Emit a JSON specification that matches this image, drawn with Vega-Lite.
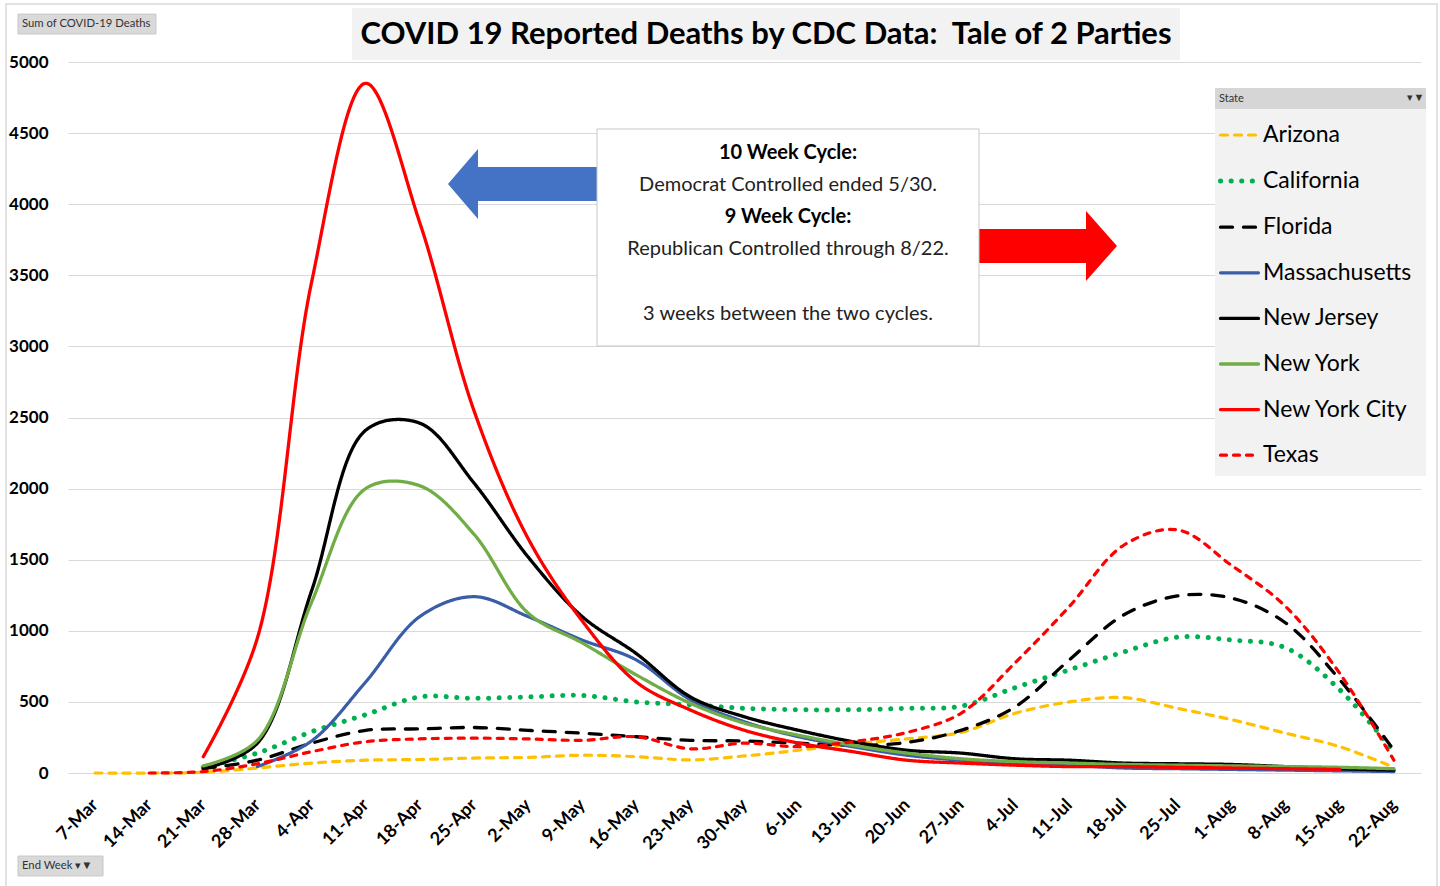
{
  "$schema": "https://vega.github.io/schema/vega-lite/v6.json",
  "autosize": {"type": "none"},
  "padding": {"left": 68, "top": 62, "right": 19, "bottom": 113},
  "width": 1353,
  "height": 711,
  "background": "white",
  "config": {"view": {"stroke": null}, "font": "Lato"},
  "datasets": {
    "deaths": [
      {"Week": "7-Mar", "State": "Arizona", "Deaths": 0},
      {"Week": "14-Mar", "State": "Arizona", "Deaths": 0},
      {"Week": "21-Mar", "State": "Arizona", "Deaths": 5},
      {"Week": "28-Mar", "State": "Arizona", "Deaths": 35},
      {"Week": "4-Apr", "State": "Arizona", "Deaths": 70},
      {"Week": "11-Apr", "State": "Arizona", "Deaths": 90},
      {"Week": "18-Apr", "State": "Arizona", "Deaths": 95},
      {"Week": "25-Apr", "State": "Arizona", "Deaths": 105},
      {"Week": "2-May", "State": "Arizona", "Deaths": 110},
      {"Week": "9-May", "State": "Arizona", "Deaths": 125},
      {"Week": "16-May", "State": "Arizona", "Deaths": 115},
      {"Week": "23-May", "State": "Arizona", "Deaths": 92},
      {"Week": "30-May", "State": "Arizona", "Deaths": 120},
      {"Week": "6-Jun", "State": "Arizona", "Deaths": 160},
      {"Week": "13-Jun", "State": "Arizona", "Deaths": 205},
      {"Week": "20-Jun", "State": "Arizona", "Deaths": 240},
      {"Week": "27-Jun", "State": "Arizona", "Deaths": 285},
      {"Week": "4-Jul", "State": "Arizona", "Deaths": 420},
      {"Week": "11-Jul", "State": "Arizona", "Deaths": 500},
      {"Week": "18-Jul", "State": "Arizona", "Deaths": 530},
      {"Week": "25-Jul", "State": "Arizona", "Deaths": 455},
      {"Week": "1-Aug", "State": "Arizona", "Deaths": 375},
      {"Week": "8-Aug", "State": "Arizona", "Deaths": 280},
      {"Week": "15-Aug", "State": "Arizona", "Deaths": 185},
      {"Week": "22-Aug", "State": "Arizona", "Deaths": 40},

      {"Week": "21-Mar", "State": "California", "Deaths": 40},
      {"Week": "28-Mar", "State": "California", "Deaths": 140},
      {"Week": "4-Apr", "State": "California", "Deaths": 290},
      {"Week": "11-Apr", "State": "California", "Deaths": 410},
      {"Week": "18-Apr", "State": "California", "Deaths": 535},
      {"Week": "25-Apr", "State": "California", "Deaths": 525},
      {"Week": "2-May", "State": "California", "Deaths": 535},
      {"Week": "9-May", "State": "California", "Deaths": 545},
      {"Week": "16-May", "State": "California", "Deaths": 500},
      {"Week": "23-May", "State": "California", "Deaths": 480},
      {"Week": "30-May", "State": "California", "Deaths": 455},
      {"Week": "6-Jun", "State": "California", "Deaths": 445},
      {"Week": "13-Jun", "State": "California", "Deaths": 445},
      {"Week": "20-Jun", "State": "California", "Deaths": 455},
      {"Week": "27-Jun", "State": "California", "Deaths": 470},
      {"Week": "4-Jul", "State": "California", "Deaths": 600},
      {"Week": "11-Jul", "State": "California", "Deaths": 725},
      {"Week": "18-Jul", "State": "California", "Deaths": 850},
      {"Week": "25-Jul", "State": "California", "Deaths": 955},
      {"Week": "1-Aug", "State": "California", "Deaths": 935},
      {"Week": "8-Aug", "State": "California", "Deaths": 880},
      {"Week": "15-Aug", "State": "California", "Deaths": 585},
      {"Week": "22-Aug", "State": "California", "Deaths": 150},

      {"Week": "21-Mar", "State": "Florida", "Deaths": 30},
      {"Week": "28-Mar", "State": "Florida", "Deaths": 90},
      {"Week": "4-Apr", "State": "Florida", "Deaths": 210},
      {"Week": "11-Apr", "State": "Florida", "Deaths": 300},
      {"Week": "18-Apr", "State": "Florida", "Deaths": 310},
      {"Week": "25-Apr", "State": "Florida", "Deaths": 320},
      {"Week": "2-May", "State": "Florida", "Deaths": 300},
      {"Week": "9-May", "State": "Florida", "Deaths": 280},
      {"Week": "16-May", "State": "Florida", "Deaths": 255},
      {"Week": "23-May", "State": "Florida", "Deaths": 230},
      {"Week": "30-May", "State": "Florida", "Deaths": 225},
      {"Week": "6-Jun", "State": "Florida", "Deaths": 210},
      {"Week": "13-Jun", "State": "Florida", "Deaths": 195},
      {"Week": "20-Jun", "State": "Florida", "Deaths": 215},
      {"Week": "27-Jun", "State": "Florida", "Deaths": 300},
      {"Week": "4-Jul", "State": "Florida", "Deaths": 465},
      {"Week": "11-Jul", "State": "Florida", "Deaths": 795},
      {"Week": "18-Jul", "State": "Florida", "Deaths": 1110},
      {"Week": "25-Jul", "State": "Florida", "Deaths": 1245},
      {"Week": "1-Aug", "State": "Florida", "Deaths": 1230},
      {"Week": "8-Aug", "State": "Florida", "Deaths": 1055},
      {"Week": "15-Aug", "State": "Florida", "Deaths": 655},
      {"Week": "22-Aug", "State": "Florida", "Deaths": 160},

      {"Week": "28-Mar", "State": "Massachusetts", "Deaths": 45},
      {"Week": "4-Apr", "State": "Massachusetts", "Deaths": 225},
      {"Week": "11-Apr", "State": "Massachusetts", "Deaths": 640},
      {"Week": "18-Apr", "State": "Massachusetts", "Deaths": 1100},
      {"Week": "25-Apr", "State": "Massachusetts", "Deaths": 1240},
      {"Week": "2-May", "State": "Massachusetts", "Deaths": 1100},
      {"Week": "9-May", "State": "Massachusetts", "Deaths": 935},
      {"Week": "16-May", "State": "Massachusetts", "Deaths": 795},
      {"Week": "23-May", "State": "Massachusetts", "Deaths": 515},
      {"Week": "30-May", "State": "Massachusetts", "Deaths": 360},
      {"Week": "6-Jun", "State": "Massachusetts", "Deaths": 255},
      {"Week": "13-Jun", "State": "Massachusetts", "Deaths": 185},
      {"Week": "20-Jun", "State": "Massachusetts", "Deaths": 125},
      {"Week": "27-Jun", "State": "Massachusetts", "Deaths": 90},
      {"Week": "4-Jul", "State": "Massachusetts", "Deaths": 70},
      {"Week": "11-Jul", "State": "Massachusetts", "Deaths": 55},
      {"Week": "18-Jul", "State": "Massachusetts", "Deaths": 35},
      {"Week": "25-Jul", "State": "Massachusetts", "Deaths": 30},
      {"Week": "1-Aug", "State": "Massachusetts", "Deaths": 25},
      {"Week": "8-Aug", "State": "Massachusetts", "Deaths": 20},
      {"Week": "15-Aug", "State": "Massachusetts", "Deaths": 15},
      {"Week": "22-Aug", "State": "Massachusetts", "Deaths": 10},

      {"Week": "21-Mar", "State": "New Jersey", "Deaths": 30},
      {"Week": "28-Mar", "State": "New Jersey", "Deaths": 210},
      {"Week": "4-Apr", "State": "New Jersey", "Deaths": 1280},
      {"Week": "11-Apr", "State": "New Jersey", "Deaths": 2410},
      {"Week": "18-Apr", "State": "New Jersey", "Deaths": 2460},
      {"Week": "25-Apr", "State": "New Jersey", "Deaths": 2040},
      {"Week": "2-May", "State": "New Jersey", "Deaths": 1520},
      {"Week": "9-May", "State": "New Jersey", "Deaths": 1100},
      {"Week": "16-May", "State": "New Jersey", "Deaths": 840},
      {"Week": "23-May", "State": "New Jersey", "Deaths": 535},
      {"Week": "30-May", "State": "New Jersey", "Deaths": 395},
      {"Week": "6-Jun", "State": "New Jersey", "Deaths": 300},
      {"Week": "13-Jun", "State": "New Jersey", "Deaths": 220},
      {"Week": "20-Jun", "State": "New Jersey", "Deaths": 160},
      {"Week": "27-Jun", "State": "New Jersey", "Deaths": 140},
      {"Week": "4-Jul", "State": "New Jersey", "Deaths": 100},
      {"Week": "11-Jul", "State": "New Jersey", "Deaths": 90},
      {"Week": "18-Jul", "State": "New Jersey", "Deaths": 70},
      {"Week": "25-Jul", "State": "New Jersey", "Deaths": 65},
      {"Week": "1-Aug", "State": "New Jersey", "Deaths": 60},
      {"Week": "8-Aug", "State": "New Jersey", "Deaths": 45},
      {"Week": "15-Aug", "State": "New Jersey", "Deaths": 30},
      {"Week": "22-Aug", "State": "New Jersey", "Deaths": 20},

      {"Week": "21-Mar", "State": "New York", "Deaths": 50},
      {"Week": "28-Mar", "State": "New York", "Deaths": 230},
      {"Week": "4-Apr", "State": "New York", "Deaths": 1200},
      {"Week": "11-Apr", "State": "New York", "Deaths": 2000},
      {"Week": "18-Apr", "State": "New York", "Deaths": 2020},
      {"Week": "25-Apr", "State": "New York", "Deaths": 1680},
      {"Week": "2-May", "State": "New York", "Deaths": 1125},
      {"Week": "9-May", "State": "New York", "Deaths": 915},
      {"Week": "16-May", "State": "New York", "Deaths": 690},
      {"Week": "23-May", "State": "New York", "Deaths": 490},
      {"Week": "30-May", "State": "New York", "Deaths": 350},
      {"Week": "6-Jun", "State": "New York", "Deaths": 265},
      {"Week": "13-Jun", "State": "New York", "Deaths": 195},
      {"Week": "20-Jun", "State": "New York", "Deaths": 140},
      {"Week": "27-Jun", "State": "New York", "Deaths": 100},
      {"Week": "4-Jul", "State": "New York", "Deaths": 80},
      {"Week": "11-Jul", "State": "New York", "Deaths": 70},
      {"Week": "18-Jul", "State": "New York", "Deaths": 60},
      {"Week": "25-Jul", "State": "New York", "Deaths": 55},
      {"Week": "1-Aug", "State": "New York", "Deaths": 50},
      {"Week": "8-Aug", "State": "New York", "Deaths": 45},
      {"Week": "15-Aug", "State": "New York", "Deaths": 40},
      {"Week": "22-Aug", "State": "New York", "Deaths": 30},

      {"Week": "21-Mar", "State": "New York City", "Deaths": 115},
      {"Week": "28-Mar", "State": "New York City", "Deaths": 950},
      {"Week": "4-Apr", "State": "New York City", "Deaths": 3450},
      {"Week": "11-Apr", "State": "New York City", "Deaths": 4850},
      {"Week": "18-Apr", "State": "New York City", "Deaths": 3870},
      {"Week": "25-Apr", "State": "New York City", "Deaths": 2550},
      {"Week": "2-May", "State": "New York City", "Deaths": 1650},
      {"Week": "9-May", "State": "New York City", "Deaths": 1070},
      {"Week": "16-May", "State": "New York City", "Deaths": 640},
      {"Week": "23-May", "State": "New York City", "Deaths": 443},
      {"Week": "30-May", "State": "New York City", "Deaths": 300},
      {"Week": "6-Jun", "State": "New York City", "Deaths": 210},
      {"Week": "13-Jun", "State": "New York City", "Deaths": 150},
      {"Week": "20-Jun", "State": "New York City", "Deaths": 90},
      {"Week": "27-Jun", "State": "New York City", "Deaths": 70},
      {"Week": "4-Jul", "State": "New York City", "Deaths": 55},
      {"Week": "11-Jul", "State": "New York City", "Deaths": 45},
      {"Week": "18-Jul", "State": "New York City", "Deaths": 45},
      {"Week": "25-Jul", "State": "New York City", "Deaths": 40},
      {"Week": "1-Aug", "State": "New York City", "Deaths": 35},
      {"Week": "8-Aug", "State": "New York City", "Deaths": 30},
      {"Week": "15-Aug", "State": "New York City", "Deaths": 25},

      {"Week": "14-Mar", "State": "Texas", "Deaths": 0},
      {"Week": "21-Mar", "State": "Texas", "Deaths": 10},
      {"Week": "28-Mar", "State": "Texas", "Deaths": 65},
      {"Week": "4-Apr", "State": "Texas", "Deaths": 150},
      {"Week": "11-Apr", "State": "Texas", "Deaths": 220},
      {"Week": "18-Apr", "State": "Texas", "Deaths": 240},
      {"Week": "25-Apr", "State": "Texas", "Deaths": 245},
      {"Week": "2-May", "State": "Texas", "Deaths": 240},
      {"Week": "9-May", "State": "Texas", "Deaths": 230},
      {"Week": "16-May", "State": "Texas", "Deaths": 255},
      {"Week": "23-May", "State": "Texas", "Deaths": 170},
      {"Week": "30-May", "State": "Texas", "Deaths": 210},
      {"Week": "6-Jun", "State": "Texas", "Deaths": 185},
      {"Week": "13-Jun", "State": "Texas", "Deaths": 220},
      {"Week": "20-Jun", "State": "Texas", "Deaths": 285},
      {"Week": "27-Jun", "State": "Texas", "Deaths": 420},
      {"Week": "4-Jul", "State": "Texas", "Deaths": 775},
      {"Week": "11-Jul", "State": "Texas", "Deaths": 1170},
      {"Week": "18-Jul", "State": "Texas", "Deaths": 1600},
      {"Week": "25-Jul", "State": "Texas", "Deaths": 1710},
      {"Week": "1-Aug", "State": "Texas", "Deaths": 1460},
      {"Week": "8-Aug", "State": "Texas", "Deaths": 1170},
      {"Week": "15-Aug", "State": "Texas", "Deaths": 700},
      {"Week": "22-Aug", "State": "Texas", "Deaths": 90}
    ]
  },
  "resolve": {"scale": {"x": "independent", "y": "independent"}},
  "layer": [
    {
      "data": {"values": [{"x0": -1.646, "x1": 24.796, "y0": 5408, "y1": -837}]},
      "mark": {"type": "rect", "fill": null, "fillOpacity": 0, "stroke": "#d9d9d9", "strokeWidth": 1.5},
      "encoding": {
        "x": {"field": "x0", "type": "quantitative", "scale": {"domain": [-0.5, 24.5], "nice": false, "zero": false}, "axis": null},
        "x2": {"field": "x1"},
        "y": {"field": "y0", "type": "quantitative", "scale": {"domain": [0, 5000], "nice": false}, "axis": null},
        "y2": {"field": "y1"}
      }
    },
    {
      "data": {"name": "deaths"},
      "mark": {"type": "line", "interpolate": "catmull-rom", "strokeCap": "round", "opacity": 0},
      "encoding": {
        "x": {"field": "Week", "type": "ordinal", "sort": ["7-Mar","14-Mar","21-Mar","28-Mar","4-Apr","11-Apr","18-Apr","25-Apr","2-May","9-May","16-May","23-May","30-May","6-Jun","13-Jun","20-Jun","27-Jun","4-Jul","11-Jul","18-Jul","25-Jul","1-Aug","8-Aug","15-Aug","22-Aug"],
          "scale": {"type": "point", "padding": 0.5},
          "axis": {"title": null, "labelAngle": -45, "labelAlign": "right", "labelBaseline": "middle", "labelFontSize": 18, "labelFontWeight": "bold", "labelColor": "black", "labelPadding": 29, "ticks": false, "domain": false, "grid": false}},
        "y": {"field": "Deaths", "type": "quantitative", "scale": {"domain": [0, 5000], "nice": false},
          "axis": {"title": null, "values": [0,500,1000,1500,2000,2500,3000,3500,4000,4500,5000], "format": "d", "labelFontSize": 17, "labelFontWeight": "bold", "labelColor": "black", "labelPadding": 20, "ticks": false, "domain": false, "grid": true, "gridColor": "#d9d9d9", "gridWidth": 1.2}}
      }
    },
    {
      "data": {"values": [{"x0": 20.694, "x1": 24.593, "y0": 4817, "y1": 2088}]},
      "mark": {"type": "rect", "fill": "#f2f2f2"},
      "encoding": {
        "x": {"field": "x0", "type": "quantitative", "scale": {"domain": [-0.5, 24.5], "nice": false, "zero": false}, "axis": null},
        "x2": {"field": "x1"},
        "y": {"field": "y0", "type": "quantitative", "scale": {"domain": [0, 5000], "nice": false}, "axis": null},
        "y2": {"field": "y1"}
      }
    },
    {
      "data": {"values": [{"x0": 20.694, "x1": 24.593, "y0": 4817, "y1": 4669}]},
      "mark": {"type": "rect", "fill": "#d6d6d6"},
      "encoding": {
        "x": {"field": "x0", "type": "quantitative", "scale": {"domain": [-0.5, 24.5], "nice": false, "zero": false}, "axis": null},
        "x2": {"field": "x1"},
        "y": {"field": "y0", "type": "quantitative", "scale": {"domain": [0, 5000], "nice": false}, "axis": null},
        "y2": {"field": "y1"}
      }
    },
    {
      "data": {"values": [{"x": 20.768, "y": 4740, "t": "State"}, {"x": 24.25, "y": 4745, "t": "▾▼"}]},
      "mark": {"type": "text", "align": "left", "baseline": "middle", "fontSize": 11, "color": "#333333"},
      "encoding": {
        "x": {"field": "x", "type": "quantitative", "scale": {"domain": [-0.5, 24.5], "nice": false, "zero": false}, "axis": null},
        "y": {"field": "y", "type": "quantitative", "scale": {"domain": [0, 5000], "nice": false}, "axis": null},
        "text": {"field": "t"}
      }
    },
    {
      "data": {"values": [{"x0": 4.748, "x1": 20.047, "y0": 5380, "y1": 5014}]},
      "mark": {"type": "rect", "fill": "#f2f2f2"},
      "encoding": {
        "x": {"field": "x0", "type": "quantitative", "scale": {"domain": [-0.5, 24.5], "nice": false, "zero": false}, "axis": null},
        "x2": {"field": "x1"},
        "y": {"field": "y0", "type": "quantitative", "scale": {"domain": [0, 5000], "nice": false}, "axis": null},
        "y2": {"field": "y1"}
      }
    },
    {
      "data": {"values": [{"x": 12.397, "y": 5190, "t": "COVID 19 Reported Deaths by CDC Data:\u00a0 Tale of 2 Parties"}]},
      "mark": {"type": "text", "align": "center", "baseline": "middle", "fontSize": 31, "fontWeight": "bold", "color": "black"},
      "encoding": {
        "x": {"field": "x", "type": "quantitative", "scale": {"domain": [-0.5, 24.5], "nice": false, "zero": false}, "axis": null},
        "y": {"field": "y", "type": "quantitative", "scale": {"domain": [0, 5000], "nice": false}, "axis": null},
        "text": {"field": "t"}
      }
    },
    {
      "data": {"values": [{"x0": -1.424, "x1": 1.126, "y0": 5337, "y1": 5197}, {"x0": -1.424, "x1": 0.147, "y0": -584, "y1": -724}]},
      "mark": {"type": "rect", "fill": "#d9d9d9", "stroke": "#c8c8c8"},
      "encoding": {
        "x": {"field": "x0", "type": "quantitative", "scale": {"domain": [-0.5, 24.5], "nice": false, "zero": false}, "axis": null},
        "x2": {"field": "x1"},
        "y": {"field": "y0", "type": "quantitative", "scale": {"domain": [0, 5000], "nice": false}, "axis": null},
        "y2": {"field": "y1"}
      }
    },
    {
      "data": {"values": [{"x": -1.35, "y": 5267, "t": "Sum of COVID-19 Deaths"}, {"x": -1.35, "y": -654, "t": "End Week ▾▼"}]},
      "mark": {"type": "text", "align": "left", "baseline": "middle", "fontSize": 11.3, "color": "#333333"},
      "encoding": {
        "x": {"field": "x", "type": "quantitative", "scale": {"domain": [-0.5, 24.5], "nice": false, "zero": false}, "axis": null},
        "y": {"field": "y", "type": "quantitative", "scale": {"domain": [0, 5000], "nice": false}, "axis": null},
        "text": {"field": "t"}
      }
    },
    {
      "data": {"values": [{"x": 7.898, "y": 4142}]},
      "mark": {"type": "point", "shape": "M -2.129 0 L -1.271 -1 L -1.271 -0.486 L 2.129 -0.486 L 2.129 0.486 L -1.271 0.486 L -1.271 1 Z", "size": 4900, "filled": true, "fill": "#4472C4", "opacity": 1, "strokeWidth": 0},
      "encoding": {
        "x": {"field": "x", "type": "quantitative", "scale": {"domain": [-0.5, 24.5], "nice": false, "zero": false}, "axis": null},
        "y": {"field": "y", "type": "quantitative", "scale": {"domain": [0, 5000], "nice": false}, "axis": null}
      }
    },
    {
      "data": {"values": [{"x": 17.608, "y": 3706}]},
      "mark": {"type": "point", "shape": "M 1.971 0 L 1.086 -1 L 1.086 -0.486 L -1.971 -0.486 L -1.971 0.486 L 1.086 0.486 L 1.086 1 Z", "size": 4900, "filled": true, "fill": "#FF0000", "opacity": 1, "strokeWidth": 0},
      "encoding": {
        "x": {"field": "x", "type": "quantitative", "scale": {"domain": [-0.5, 24.5], "nice": false, "zero": false}, "axis": null},
        "y": {"field": "y", "type": "quantitative", "scale": {"domain": [0, 5000], "nice": false}, "axis": null}
      }
    },
    {
      "data": {"values": [{"x0": 9.275, "x1": 16.333, "y0": 4529, "y1": 3003}]},
      "mark": {"type": "rect", "fill": "white", "stroke": "#c8c8c8", "strokeWidth": 1},
      "encoding": {
        "x": {"field": "x0", "type": "quantitative", "scale": {"domain": [-0.5, 24.5], "nice": false, "zero": false}, "axis": null},
        "x2": {"field": "x1"},
        "y": {"field": "y0", "type": "quantitative", "scale": {"domain": [0, 5000], "nice": false}, "axis": null},
        "y2": {"field": "y1"}
      }
    },
    {
      "data": {"values": [{"x": 12.804, "y": 4360, "t": "10 Week Cycle:"}, {"x": 12.804, "y": 3910, "t": "9 Week Cycle:"}]},
      "mark": {"type": "text", "align": "center", "baseline": "middle", "fontSize": 20, "fontWeight": "bold", "color": "black"},
      "encoding": {
        "x": {"field": "x", "type": "quantitative", "scale": {"domain": [-0.5, 24.5], "nice": false, "zero": false}, "axis": null},
        "y": {"field": "y", "type": "quantitative", "scale": {"domain": [0, 5000], "nice": false}, "axis": null},
        "text": {"field": "t"}
      }
    },
    {
      "data": {"values": [{"x": 12.804, "y": 4135, "t": "Democrat Controlled ended 5/30."}, {"x": 12.804, "y": 3685, "t": "Republican Controlled through 8/22."}, {"x": 12.804, "y": 3228, "t": "3 weeks between the two cycles."}]},
      "mark": {"type": "text", "align": "center", "baseline": "middle", "fontSize": 20, "color": "#222222"},
      "encoding": {
        "x": {"field": "x", "type": "quantitative", "scale": {"domain": [-0.5, 24.5], "nice": false, "zero": false}, "axis": null},
        "y": {"field": "y", "type": "quantitative", "scale": {"domain": [0, 5000], "nice": false}, "axis": null},
        "text": {"field": "t"}
      }
    },
    {
      "data": {"name": "deaths"},
      "mark": {"type": "line", "interpolate": "catmull-rom", "strokeCap": "round"},
      "encoding": {
        "x": {"field": "Week", "type": "ordinal", "sort": ["7-Mar","14-Mar","21-Mar","28-Mar","4-Apr","11-Apr","18-Apr","25-Apr","2-May","9-May","16-May","23-May","30-May","6-Jun","13-Jun","20-Jun","27-Jun","4-Jul","11-Jul","18-Jul","25-Jul","1-Aug","8-Aug","15-Aug","22-Aug"],
          "scale": {"type": "point", "padding": 0.5}, "axis": null},
        "y": {"field": "Deaths", "type": "quantitative", "scale": {"domain": [0, 5000], "nice": false}, "axis": null},
        "color": {"field": "State", "type": "nominal",
          "scale": {"domain": ["Arizona","California","Florida","Massachusetts","New Jersey","New York","New York City","Texas"],
                    "range": ["#FFC000","#00B050","#000000","#3A5DA8","#000000","#70AD47","#FF0000","#FF0000"]},
          "legend": {"orient": "none", "legendX": 1150, "legendY": 52, "title": null, "symbolType": "stroke", "symbolSize": 1444, "symbolStrokeWidth": 3.2, "labelFontSize": 23, "labelColor": "black", "rowPadding": 12.6, "labelOffset": 2, "padding": 0, "labelLimit": 300,
            "encode": {"symbols": {"update": {"strokeCap": {"value": "round"}}}}}},
        "strokeDash": {"field": "State", "type": "nominal",
          "scale": {"domain": ["Arizona","California","Florida","Massachusetts","New Jersey","New York","New York City","Texas"],
                    "range": [[7,7],[0.1,10.5],[12,11],[1,0],[1,0],[1,0],[1,0],[6,7]]},
          "legend": {"orient": "none", "legendX": 1150, "legendY": 52, "title": null, "symbolType": "stroke", "symbolSize": 1444, "symbolStrokeWidth": 3.2, "labelFontSize": 23, "labelColor": "black", "rowPadding": 12.6, "labelOffset": 2, "padding": 0, "labelLimit": 300,
            "encode": {"symbols": {"update": {"strokeCap": {"value": "round"}}}}}},
        "strokeWidth": {"field": "State", "type": "nominal",
          "scale": {"type": "ordinal", "domain": ["Arizona","California","Florida","Massachusetts","New Jersey","New York","New York City","Texas"],
                    "range": [3.2,5,3.3,3.2,3.3,3.3,3.3,3.2]}, "legend": null}
      }
    }
  ]
}
